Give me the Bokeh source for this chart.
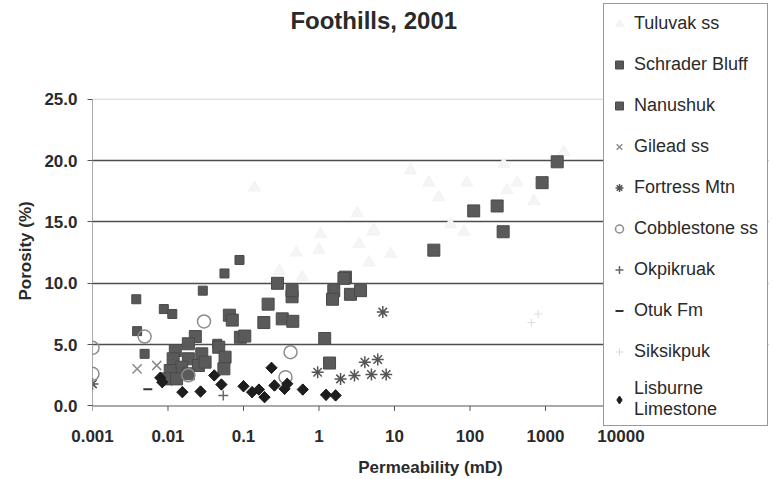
from bokeh.plotting import figure
from bokeh.models import Range1d, Legend, LegendItem, FixedTicker, Span, Title, Label
from bokeh.embed import file_html
from bokeh.resources import INLINE

# ---- data (permeability mD, porosity %) ----
tuluvak_k = [16.3, 28.5, 38.6, 91, 280, 310, 420, 700, 1740, 3.2, 5.1, 3.4, 4.6, 1.05, 1.0, 8.9, 55, 83, 5.4, 0.3, 0.5, 0.6, 0.14]
tuluvak_phi = [19.2, 18.2, 17.0, 18.2, 19.7, 17.6, 18.2, 16.7, 20.7, 15.7, 14.2, 13.2, 11.7, 14.0, 12.7, 12.4, 14.8, 14.2, 14.3, 11.0, 12.5, 10.5, 17.8]

schrader_k = [0.0885, 0.056, 0.0289, 0.0038, 0.0088, 0.0114, 0.0039, 0.0049, 0.045]
schrader_phi = [11.9, 10.8, 9.4, 8.7, 7.9, 7.5, 6.1, 4.25, 5.07]

nanushuk_k = [33.2, 112, 229, 275, 903, 1430,
              2.24, 1.57, 1.51, 2.14, 2.61, 3.55, 0.44, 0.44, 0.282, 0.212, 0.326, 0.45, 0.186,
              0.065, 0.071, 0.091, 0.104, 1.19, 1.38,
              0.023, 0.0186, 0.0125, 0.028, 0.0117, 0.0186, 0.0152, 0.0253, 0.0107, 0.031,
              0.0186, 0.0096, 0.013, 0.047, 0.057, 0.055]
nanushuk_phi = [12.7, 15.9, 16.3, 14.2, 18.2, 19.9,
                10.5, 9.4, 8.7, 10.4, 9.1, 9.4, 8.9, 9.4, 10.0, 8.3, 7.1, 6.9, 6.8,
                7.4, 7.0, 5.6, 5.7, 5.5, 3.5,
                5.66, 5.07, 4.52, 4.25, 3.85, 3.85, 3.16, 3.3, 2.89, 3.57,
                2.62, 2.21, 2.21, 4.79, 3.98, 3.03]

gilead_k = [0.0039, 0.0071]
gilead_phi = [3.03, 3.3]

fortress_k = [0.96, 1.93, 2.95, 4.95, 7.76, 4.05, 6.0, 7.0, 0.001]
fortress_phi = [2.75, 2.21, 2.49, 2.57, 2.57, 3.57, 3.79, 7.65, 1.8]

cobble_k = [0.030, 0.0049, 0.001, 0.001, 0.42, 0.36, 0.0186]
cobble_phi = [6.89, 5.66, 4.74, 2.62, 4.38, 2.35, 2.5]

okpik_k = [0.054]
okpik_phi = [0.86]

otuk_k = [0.0054]
otuk_phi = [1.37]

siksik_k = [650, 800]
siksik_phi = [6.8, 7.5]

lisburne_k = [0.0079, 0.0084, 0.0155, 0.027, 0.041, 0.051, 0.10, 0.13, 0.16, 0.19, 0.235, 0.257, 0.35, 0.38, 0.61, 1.24, 1.66]
lisburne_phi = [2.3, 1.94, 1.13, 1.18, 2.49, 1.75, 1.61, 1.13, 1.34, 0.72, 3.11, 1.67, 1.4, 1.81, 1.34, 0.91, 0.86]

x_tick_values = [0.001, 0.01, 0.1, 1, 10, 100, 1000, 10000]
x_tick_labels = ["0.001", "0.01", "0.1", "1", "10", "100", "1000", "10000"]
y_tick_values = [0, 5, 10, 15, 20, 25]
y_tick_labels = ["0.0", "5.0", "10.0", "15.0", "20.0", "25.0"]

FONT = "Liberation Sans"
TXT = "#2a2a2a"
AXC = "#555555"

# plot frame also spans the area under the legend (as in the original, where
# the legend box sits on top of the plot area)
p = figure(width=773, height=479, x_axis_type="log",
           x_range=Range1d(x_tick_values[0], 10 ** 5.954), y_range=Range1d(-1.834, 32.8),
           output_backend="svg", toolbar_location=None,
           min_border_left=92, min_border_right=5, min_border_top=3, min_border_bottom=51,
           background_fill_color="white", border_fill_color="white", outline_line_color=None)

# chart title
p.add_layout(Label(x=5.31, y=31.4, text="Foothills, 2001", text_align="center",
                   text_baseline="middle", text_font=FONT, text_font_size="24px",
                   text_font_style="bold", text_color=TXT))

# grid
p.xgrid.visible = False
p.ygrid.ticker = FixedTicker(ticks=[5, 10, 15, 20])
p.ygrid.grid_line_color = "#4d4d4d"
p.ygrid.grid_line_width = 1.3
p.add_layout(Span(location=y_tick_values[-1], dimension="width", line_color="#d6d6d6", line_width=1))

# axes
xa = p.xaxis[0]
xa.ticker = FixedTicker(ticks=x_tick_values)
xa.major_label_overrides = {v: l for v, l in zip(x_tick_values, x_tick_labels)}
ya = p.yaxis[0]
ya.ticker = FixedTicker(ticks=y_tick_values)
ya.major_label_overrides = {v: l for v, l in zip(y_tick_values, y_tick_labels)}
for ax in (xa, ya):
    ax.axis_line_color = None
    ax.major_tick_line_color = AXC
    ax.major_tick_out = 5
    ax.major_tick_in = 0
    ax.minor_tick_line_color = None
    ax.major_label_text_font = FONT
    ax.major_label_text_font_size = "17px"
    ax.major_label_text_font_style = "bold"
    ax.major_label_text_color = TXT
    ax.axis_label_text_font = FONT
    ax.axis_label_text_font_size = "17px"
    ax.axis_label_text_font_style = "bold"
    ax.axis_label_text_color = TXT
xa.axis_label = "Permeability (mD)"
xa.major_tick_line_color = None
xa.major_tick_out = 0
xa.major_label_standoff = 1
xa.axis_label_standoff = 13
ya.major_label_standoff = 10

# axis lines at porosity 0 and permeability 0.001, with decade ticks
p.segment(x0=[x_tick_values[0]], y0=[y_tick_values[0]], x1=[x_tick_values[0]], y1=[y_tick_values[-1]],
          line_color=AXC, line_width=1)
p.segment(x0=[x_tick_values[0]], y0=[y_tick_values[0]], x1=[x_tick_values[-1]], y1=[y_tick_values[0]],
          line_color=AXC, line_width=1)
p.segment(x0=x_tick_values, y0=[0] * len(x_tick_values), x1=x_tick_values, y1=[-0.4] * len(x_tick_values),
          line_color=AXC, line_width=1)

p.add_layout(Title(text="Porosity (%)", align="left", offset=128, standoff=14,
                   text_font=FONT, text_font_size="17px", text_font_style="bold",
                   text_color=TXT), "left")

# series
r_tul = p.scatter(tuluvak_k, tuluvak_phi, marker="triangle", size=12,
                  fill_color="#f5f5f5", line_color="#f2f2f2")
r_sch = p.scatter(schrader_k, schrader_phi, marker="square", size=9,
                  fill_color="#575757", line_color="#4a4a4a")
r_nan = p.scatter(nanushuk_k, nanushuk_phi, marker="square", size=12,
                  fill_color="#5a5a5a", line_color="#4a4a4a")
r_gil = p.scatter(gilead_k, gilead_phi, marker="x", size=13,
                  line_color="#8c8c8c", line_width=1.5)
r_for = p.scatter(fortress_k, fortress_phi, marker="asterisk", size=12,
                  line_color="#555555", line_width=1.5)
r_cob = p.scatter(cobble_k, cobble_phi, marker="circle", size=13,
                  fill_color=None, line_color="#8c8c8c", line_width=1.5)
r_okp = p.scatter(okpik_k, okpik_phi, marker="cross", size=10,
                  line_color="#666666", line_width=1.5)
r_otu = p.scatter(otuk_k, otuk_phi, marker="dash", size=9,
                  line_color="#333333", line_width=2)
r_sik = p.scatter(siksik_k, siksik_phi, marker="cross", size=8,
                  line_color="#dcdcdc", line_width=1)
# diamond glyph (used for the legend swatch) under 45-degree squares
r_lis_d = p.scatter(lisburne_k, lisburne_phi, marker="diamond", size=11,
                    fill_color="#1e1e1e", line_color="#1e1e1e")
r_lis = p.scatter(lisburne_k, lisburne_phi, marker="square", size=8, angle=0.785,
                  fill_color="#1e1e1e", line_color="#1e1e1e")

items = [
    LegendItem(label="Tuluvak ss", renderers=[r_tul]),
    LegendItem(label="Schrader Bluff", renderers=[r_sch]),
    LegendItem(label="Nanushuk", renderers=[r_nan]),
    LegendItem(label="Gilead ss", renderers=[r_gil]),
    LegendItem(label="Fortress Mtn", renderers=[r_for]),
    LegendItem(label="Cobblestone ss", renderers=[r_cob]),
    LegendItem(label="Okpikruak", renderers=[r_okp]),
    LegendItem(label="Otuk Fm", renderers=[r_otu]),
    LegendItem(label="Siksikpuk", renderers=[r_sik]),
    LegendItem(label="Lisburne\nLimestone", renderers=[r_lis_d]),
]
legend = Legend(items=items, location="top_right", padding=5, spacing=12,
                glyph_width=20, glyph_height=29, label_height=29, label_width=128,
                label_standoff=5, margin=0,
                label_text_font=FONT, label_text_font_size="18px", label_text_color=TXT,
                border_line_color="#333333", border_line_width=1,
                background_fill_color="white", background_fill_alpha=1)
p.add_layout(legend, "center")

open("out.html", "w").write(file_html(p, INLINE))
